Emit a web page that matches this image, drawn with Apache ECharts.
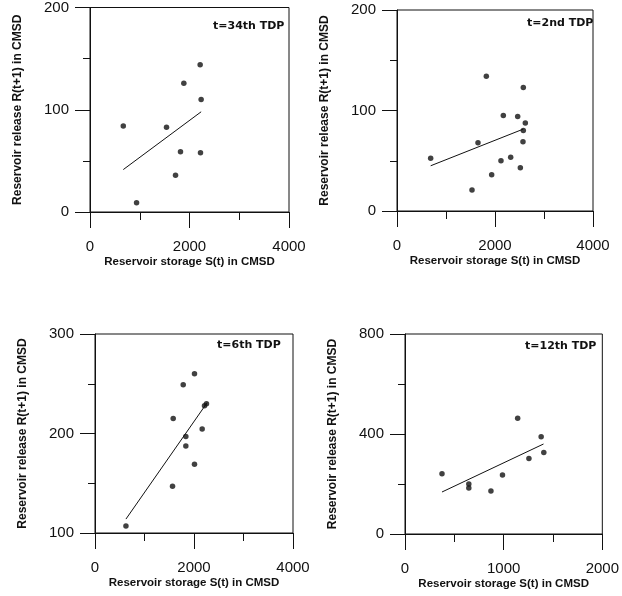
<!DOCTYPE html>
<html>
<head>
<meta charset="utf-8">
<title>Reservoir release vs storage</title>
<style>
  html, body { margin: 0; padding: 0; background: #fff; }
  #chart { width: 622px; height: 596px; }
</style>
</head>
<body>
<div id="chart"></div>
<script src="https://cdn.jsdelivr.net/npm/echarts@6/dist/echarts.min.js"></script>
<script>
// panel labels
var panelTags = ['t=34th TDP', 't=2nd TDP', 't=6th TDP', 't=12th TDP'];

// t=34th TDP : [storage, release]
var pts34 = [[669, 84], [936, 9], [1538, 83], [1719, 36], [1819, 59], [1886, 126], [2214, 144], [2234, 110], [2221, 58]];
var fit34 = [[669, 41.5], [2234, 98]];

// t=2nd TDP
var pts2 = [[687, 52.5], [1531, 21], [1653, 68], [1823, 134], [1932, 36], [2122, 50], [2170, 95], [2320, 53.5],
  [2463, 94], [2517, 43], [2578, 123], [2619, 87.5], [2578, 80], [2571, 69]];
var fit2 = [[687, 45], [2578, 81.5]];

// t=6th TDP
var pts6 = [[625, 107], [1566, 147], [1580, 215], [1782, 249], [1835, 197], [1835, 187.5], [2010, 260],
  [2010, 169], [2165, 204.5], [2212, 228], [2252, 230]];
var fit6 = [[625, 114], [2266, 231]];

// t=12th TDP
var pts12 = [[375, 241], [647, 200], [647, 184], [871, 172], [988, 236], [1142, 463], [1256, 302], [1380, 389], [1407, 326]];
var fit12 = [[375, 168], [1404, 360]];

// axis ranges: [xmin, xmax, xstep, ymin, ymax, ystep]
var ranges = [
  [0, 4000, 2000, 0, 200, 100],
  [0, 4000, 2000, 0, 200, 100],
  [0, 4000, 2000, 100, 300, 100],
  [0, 2000, 1000, 0, 800, 400]
];

var pointSets = [pts34, pts2, pts6, pts12];
var fitSets = [fit34, fit2, fit6, fit12];

var xTitle = 'Reservoir storage S(t) in CMSD';
var yTitle = 'Reservoir release R(t+1) in CMSD';

// grid boxes [left, top, width, height]
var boxes = [
  [90, 6, 199, 206],
  [397, 10, 196, 201],
  [95, 334, 198, 199],
  [405, 334, 199, 200]
];
// top-left of the panel tags
var tagPos = [[213, 21], [527, 18], [217, 340], [525, 341]];

var FONT = '"Liberation Sans", Arial, sans-serif';
var ink = '#111';

var grids = [], xAxes = [], yAxes = [], series = [], graphics = [];

for (var i = 0; i < 4; i++) {
  var b = boxes[i], r = ranges[i];
  grids.push({
    left: b[0], top: b[1], width: b[2], height: b[3],
    show: true, borderColor: ink, borderWidth: 1, containLabel: false
  });
  xAxes.push({
    gridIndex: i, type: 'value', min: r[0], max: r[1], interval: r[2],
    name: xTitle, nameLocation: 'middle', nameGap: 44,
    nameTextStyle: { fontFamily: FONT, fontSize: 11.5, fontWeight: 'bold', color: ink },
    axisLine: { show: true, onZero: false, lineStyle: { color: ink, width: 1 } },
    axisTick: { show: true, inside: false, length: 16, lineStyle: { color: ink } },
    minorTick: { show: true, splitNumber: 2, length: 8, lineStyle: { color: ink } },
    axisLabel: { margin: 27, fontFamily: FONT, fontSize: 15, color: ink, formatter: function (v) { return String(v); } },
    splitLine: { show: false }
  });
  yAxes.push({
    gridIndex: i, type: 'value', min: r[3], max: r[4], interval: r[5],
    name: yTitle, nameLocation: 'middle', nameGap: 66,
    nameTextStyle: { fontFamily: FONT, fontSize: 12, fontWeight: 'bold', color: ink },
    axisLine: { show: true, onZero: false, lineStyle: { color: ink, width: 1 } },
    axisTick: { show: true, inside: false, length: 15, lineStyle: { color: ink } },
    minorTick: { show: true, splitNumber: 2, length: 7, lineStyle: { color: ink } },
    axisLabel: { margin: 21, fontFamily: FONT, fontSize: 15, color: ink, formatter: function (v) { return String(v); } },
    splitLine: { show: false }
  });
  series.push({
    type: 'scatter', xAxisIndex: i, yAxisIndex: i, data: pointSets[i],
    symbol: 'circle', symbolSize: 5.5, itemStyle: { color: ink }, silent: true
  });
  series.push({
    type: 'line', xAxisIndex: i, yAxisIndex: i, data: fitSets[i],
    showSymbol: false, lineStyle: { color: ink, width: 1 }, silent: true
  });
  graphics.push({
    type: 'text', left: tagPos[i][0], top: tagPos[i][1],
    style: { text: panelTags[i], fontFamily: '"DejaVu Sans", sans-serif', fontSize: 11, fontWeight: 'bold', fill: ink }
  });
}

var myChart = echarts.init(document.getElementById('chart'), null, { renderer: 'canvas' });
myChart.setOption({
  backgroundColor: '#fff',
  animation: false,
  grid: grids,
  xAxis: xAxes,
  yAxis: yAxes,
  series: series,
  graphic: graphics
});
</script>
</body>
</html>
